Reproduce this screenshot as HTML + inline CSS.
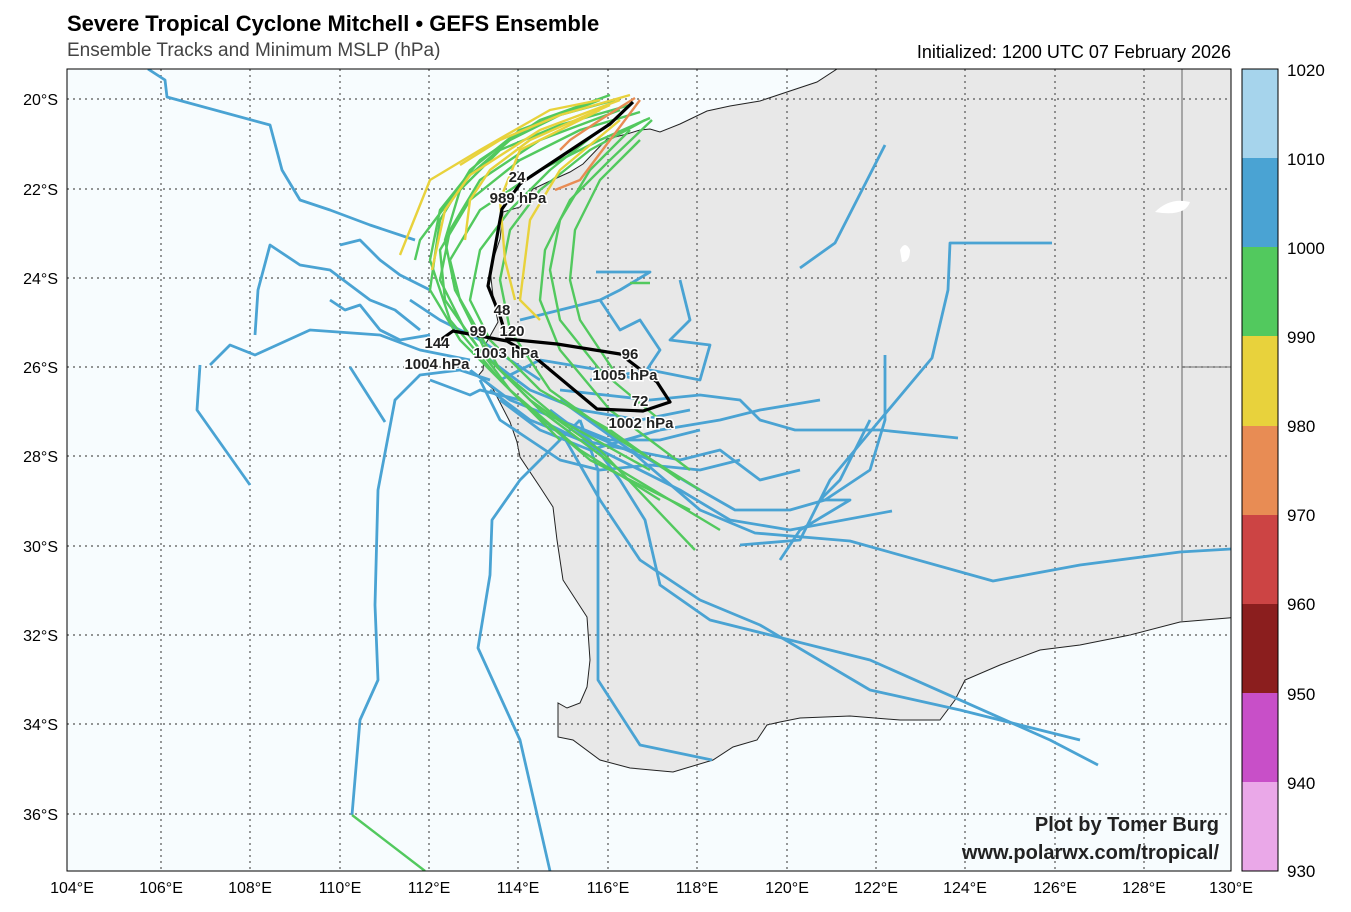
<!DOCTYPE html>
<html><head><meta charset="utf-8"><style>
body{margin:0;background:#fff;}
svg{display:block;font-family:"Liberation Sans",sans-serif;}
.lab{font-size:15px;font-weight:bold;fill:#222;stroke:#fff;stroke-width:3px;paint-order:stroke;}
</style></head><body>
<svg width="1351" height="912" viewBox="0 0 1351 912">
<defs><clipPath id="c"><rect x="67" y="69" width="1164" height="802"/></clipPath></defs>
<text x="67" y="31" font-size="22" font-weight="bold" fill="#000">Severe Tropical Cyclone Mitchell • GEFS Ensemble</text>
<text x="67" y="56" font-size="19" fill="#444">Ensemble Tracks and Minimum MSLP (hPa)</text>
<text x="1231" y="58" font-size="18" fill="#000" text-anchor="end">Initialized: 1200 UTC 07 February 2026</text>
<g clip-path="url(#c)">
<rect x="67" y="69" width="1164" height="802" fill="#f7fcfe"/>
<path fill="#e8e8e8" stroke="#222" stroke-width="1" d="M837,69 L817,82 L760,101 L730,106 L707,111 L680,124 L660,132 L650,129 L640,130 L627,134 L607,139 L583,164 L570,172 L550,181 L533,189 L520,207 L503,212 L500,239 L490,269 L493,296 L498,322 L485,345 L483,370 L478,376 L493,389 L510,422 L517,442 L520,457 L540,487 L553,507 L557,540 L563,580 L587,617 L590,660 L587,687 L580,703 L567,708 L558,703 L558,737 L573,740 L600,760 L630,768 L673,772 L713,760 L733,747 L757,740 L767,725 L780,722 L800,718 L850,716 L900,720 L940,720 L955,700 L965,680 L1000,665 L1040,650 L1080,645 L1130,635 L1180,622 L1240,617 L1240,60 L840,60 Z"/>
<path d="M1182,69 V621 M1182,367 H1231" stroke="#444" stroke-width="0.8" fill="none"/>
<path d="M1155,212 q15,-15 35,-10 q-5,15 -35,10z M900,250 q5,-10 10,0 q0,12 -8,12z" fill="#fff"/>
<g stroke="#555" stroke-width="1.2" stroke-dasharray="2,4" fill="none">
<path d="M161,69V871M250,69V871M340,69V871M429,69V871M518,69V871M608,69V871M697,69V871M787,69V871M876,69V871M965,69V871M1055,69V871M1144,69V871"/>
<path d="M67,99H1231M67,189H1231M67,278H1231M67,367H1231M67,456H1231M67,546H1231M67,635H1231M67,724H1231M67,814H1231"/>
</g>
<g fill="none" stroke="#4aa3d3" stroke-width="2.8" stroke-linejoin="round">
<path d="M148,69 165,80 167,97 270,125 282,170 300,200 330,210 370,225 415,240"/>
<path d="M210,365 230,345 255,355 310,330 380,335 420,350 470,360"/>
<path d="M200,365 197,410 250,485"/>
<path d="M255,335 258,290 270,245 300,265 330,270 370,300 395,310 420,330"/>
<path d="M340,245 360,240 380,260 400,275 430,290"/>
<path d="M330,300 345,310 360,305 380,330 400,340 430,335"/>
<path d="M350,367 385,422"/>
<path d="M352,815 360,720 378,680 375,605 378,490 395,400 420,375 460,370 490,380"/>
<path d="M550,871 520,740 478,648 490,575 492,520 520,480 560,440 580,420"/>
<path d="M1098,765 1050,740 870,660 710,620 660,585 645,520 620,480 590,440 550,410"/>
<path d="M712,760 640,745 598,680 598,470 580,420"/>
<path d="M1231,549 1180,552 1080,565 993,581 850,541 755,533 700,510 630,450 560,400"/>
<path d="M1080,740 960,710 870,690 760,625 700,600 640,560 600,500 560,430"/>
<path d="M885,145 835,243 800,268"/>
<path d="M1052,243 950,243 948,290 932,358 880,420 830,480 800,540 740,545"/>
<path d="M885,355 885,420 870,470 825,500 790,510 735,510 700,490 650,460 580,430"/>
<path d="M958,438 880,430 795,430 760,420 740,400 700,395 650,400 560,390"/>
<path d="M892,511 790,530 730,520 680,490 620,460 540,420"/>
<path d="M680,280 690,320 670,340 710,345 700,380 650,370 590,380"/>
<path d="M596,272 650,272 620,290 600,300 560,310 520,320"/>
<path d="M600,300 620,330 640,320 660,350 640,380 600,370 540,360 500,380"/>
<path d="M480,380 500,420 530,440 560,460 600,470 650,465 700,470 740,460"/>
<path d="M490,390 530,420 580,440 630,450 680,460 720,450 760,480 800,470"/>
<path d="M500,400 540,430 590,450 660,430 720,420 760,410 820,400"/>
<path d="M870,420 840,480 820,500 850,500 800,530 780,560"/>
<path d="M430,380 470,395 480,390 520,400"/>
<path d="M410,300 440,320 480,340 510,360 540,380"/>
<path d="M470,370 510,400 560,420 610,440 660,440 700,430"/>
<path d="M490,360 530,390 580,410 640,420 690,410"/>
</g>
<g fill="none" stroke="#52c95e" stroke-width="2.4" stroke-linejoin="round">
<path d="M650,118 600,140 540,170 480,210 450,260 460,300 490,360 540,410 620,470 720,530"/>
<path d="M640,112 580,130 520,160 470,200 440,250 445,300 480,350 530,400 600,450 695,550"/>
<path d="M630,105 560,125 500,150 460,190 445,240 455,290 500,370 560,420 650,470"/>
<path d="M645,120 590,150 540,190 510,230 500,280 510,330 550,390 620,440 700,490"/>
<path d="M620,110 540,140 480,180 450,230 440,280 465,330 510,390 580,450 660,500"/>
<path d="M610,95 540,120 480,160 440,210 430,260 450,320 500,380 560,440"/>
<path d="M652,120 610,160 570,200 545,250 540,300 560,350 610,410 690,470"/>
<path d="M600,100 520,130 470,170 440,220 430,290 460,340 520,400 590,460 690,510"/>
<path d="M630,130 590,170 560,220 550,270 560,320 600,370 660,420"/>
<path d="M640,140 600,180 575,230 570,280 580,320 620,380"/>
<path d="M615,100 560,115 510,140 470,175 450,200 420,240 415,260"/>
<path d="M600,130 550,170 510,210 480,250 470,300 490,340 540,390 610,430 680,480"/>
<path d="M352,815 425,871"/>
<path d="M630,283 650,283"/>
</g>
<g fill="none" stroke="#e8d23c" stroke-width="2.4" stroke-linejoin="round">
<path d="M600,100 550,110 480,150 430,180 410,230 400,255"/>
<path d="M630,95 560,115 500,140 460,165"/>
<path d="M620,100 540,130 470,175 445,210 432,270"/>
<path d="M610,105 530,140 490,170 470,200 465,240"/>
<path d="M620,120 560,170 530,220 520,300 540,320"/>
<path d="M600,110 520,150 500,200 505,260 515,300"/>
</g>
<g fill="none" stroke="#e88c54" stroke-width="2.4">
<path d="M635,98 600,120 570,140 560,150"/>
<path d="M640,100 610,140 580,180 555,190"/>
</g>
<path fill="none" stroke="#000" stroke-width="3.2" stroke-linejoin="round" d="M633,102 610,124 530,177 520,184 502,209 488,286 500,316 507,339 557,344 620,354 657,382 670,402 643,411 597,409 537,359 507,341 453,331 432,346"/>
<text class="lab" x="517" y="182" text-anchor="middle">24</text>
<text class="lab" x="518" y="203" text-anchor="middle">989 hPa</text>
<text class="lab" x="502" y="315" text-anchor="middle">48</text>
<text class="lab" x="478" y="336" text-anchor="middle">99</text>
<text class="lab" x="512" y="336" text-anchor="middle">120</text>
<text class="lab" x="506" y="358" text-anchor="middle">1003 hPa</text>
<text class="lab" x="437" y="348" text-anchor="middle">144</text>
<text class="lab" x="437" y="369" text-anchor="middle">1004 hPa</text>
<text class="lab" x="630" y="359" text-anchor="middle">96</text>
<text class="lab" x="625" y="380" text-anchor="middle">1005 hPa</text>
<text class="lab" x="640" y="406" text-anchor="middle">72</text>
<text class="lab" x="641" y="428" text-anchor="middle">1002 hPa</text>
<text x="1219" y="831" font-size="20" font-weight="bold" fill="#222" text-anchor="end">Plot by Tomer Burg</text>
<text x="1219" y="859" font-size="20" font-weight="bold" fill="#222" text-anchor="end">www.polarwx.com/tropical/</text>
</g>
<rect x="67" y="69" width="1164" height="802" fill="none" stroke="#000" stroke-width="1"/>
<g font-size="16" fill="#000" text-anchor="end">
<text x="58" y="105">20°S</text><text x="58" y="195">22°S</text><text x="58" y="284">24°S</text><text x="58" y="373">26°S</text><text x="58" y="462">28°S</text><text x="58" y="552">30°S</text><text x="58" y="641">32°S</text><text x="58" y="730">34°S</text><text x="58" y="820">36°S</text>
</g>
<g font-size="16" fill="#000" text-anchor="middle">
<text x="72" y="893">104°E</text><text x="161" y="893">106°E</text><text x="250" y="893">108°E</text><text x="340" y="893">110°E</text><text x="429" y="893">112°E</text><text x="518" y="893">114°E</text><text x="608" y="893">116°E</text><text x="697" y="893">118°E</text><text x="787" y="893">120°E</text><text x="876" y="893">122°E</text><text x="965" y="893">124°E</text><text x="1055" y="893">126°E</text><text x="1144" y="893">128°E</text><text x="1231" y="893">130°E</text>
</g>
<g>
<rect x="1242" y="69" width="36" height="90" fill="#a6d4ec"/>
<rect x="1242" y="158" width="36" height="90" fill="#4aa3d3"/>
<rect x="1242" y="247" width="36" height="90" fill="#52c95e"/>
<rect x="1242" y="336" width="36" height="91" fill="#e8d23c"/>
<rect x="1242" y="426" width="36" height="90" fill="#e88c54"/>
<rect x="1242" y="515" width="36" height="90" fill="#cc4444"/>
<rect x="1242" y="604" width="36" height="90" fill="#8b1e1e"/>
<rect x="1242" y="693" width="36" height="90" fill="#c84fc8"/>
<rect x="1242" y="782" width="36" height="89" fill="#eaa8e8"/>
<rect x="1242" y="69" width="36" height="802" fill="none" stroke="#000" stroke-width="1"/>
</g>
<g font-size="17" fill="#000">
<text x="1287" y="76">1020</text><text x="1287" y="165">1010</text><text x="1287" y="254">1000</text><text x="1287" y="343">990</text><text x="1287" y="432">980</text><text x="1287" y="521">970</text><text x="1287" y="610">960</text><text x="1287" y="700">950</text><text x="1287" y="789">940</text><text x="1287" y="877">930</text>
</g>
</svg>
</body></html>
